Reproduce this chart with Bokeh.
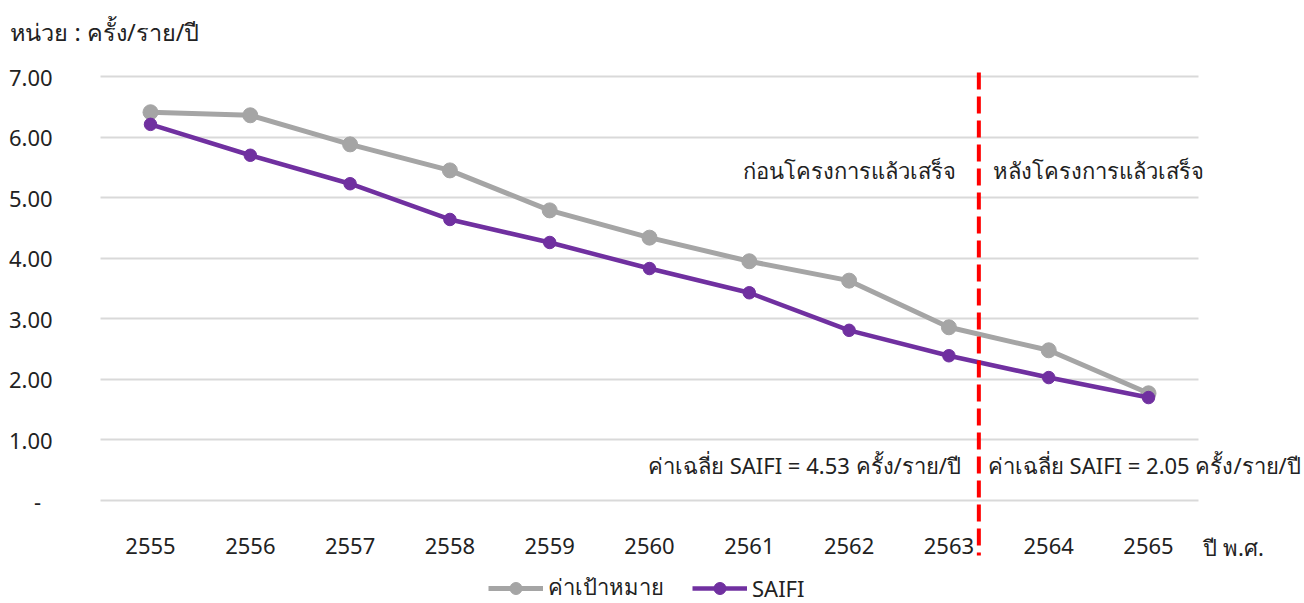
from bokeh.plotting import figure
from bokeh.models import Range1d, FixedTicker, Label, Legend, LegendItem
from bokeh.embed import file_html
from bokeh.resources import INLINE

# ---- data ----
years = [2555, 2556, 2557, 2558, 2559, 2560, 2561, 2562, 2563, 2564, 2565]
target = [6.41, 6.36, 5.88, 5.45, 4.79, 4.34, 3.95, 3.63, 2.86, 2.48, 1.77]
saifi = [6.21, 5.70, 5.23, 4.64, 4.26, 3.83, 3.43, 2.81, 2.39, 2.03, 1.70]
y_ticks = [0, 1, 2, 3, 4, 5, 6, 7]
y_tick_labels = ["-\u00a0\u00a0", "1.00", "2.00", "3.00", "4.00", "5.00", "6.00", "7.00"]
boundary_year = 2563.3
boundary_top = 7.066
boundary_bottom = -0.908
series_names = ["ค่าเป้าหมาย", "SAIFI"]
unit_text = "หน่วย : ครั้ง/ราย/ปี"
x_title = "ปี พ.ศ."
before_text = "ก่อนโครงการแล้วเสร็จ"
after_text = "หลังโครงการแล้วเสร็จ"
avg_before = "ค่าเฉลี่ย SAIFI = 4.53 ครั้ง/ราย/ปี"
avg_after = "ค่าเฉลี่ย SAIFI = 2.05 ครั้ง/ราย/ปี"

FONT = "Noto Sans"
FS = "22px"
GRAY = "#A5A5A5"
PURPLE = "#7030A0"
TXT = "#222222"

# frame covers the whole canvas; plot area bounds given via fixed axis / grid bounds
X0, X1 = 2554.5, 2565.5
p = figure(width=1304, height=603,
           x_range=Range1d(2553.497, 2566.563), y_range=Range1d(-1.70, 8.255),
           output_backend="svg", toolbar_location=None,
           min_border_left=0, min_border_right=0,
           min_border_top=0, min_border_bottom=0)
p.outline_line_color = None
p.background_fill_color = "white"

# axes
p.xaxis.ticker = FixedTicker(ticks=years)
p.xaxis.fixed_location = 0
p.xaxis.axis_line_color = None
p.xaxis.major_tick_line_color = None
p.xaxis.minor_tick_line_color = None
p.xaxis.major_label_standoff = 31
p.xaxis.major_label_text_font = FONT
p.xaxis.major_label_text_font_size = FS
p.xaxis.major_label_text_color = TXT
p.xgrid.visible = False

p.yaxis.ticker = FixedTicker(ticks=y_ticks)
p.yaxis.fixed_location = X0
p.yaxis.major_label_overrides = {t: l for t, l in zip(y_ticks, y_tick_labels)}
p.yaxis.axis_line_color = None
p.yaxis.major_tick_line_color = None
p.yaxis.minor_tick_line_color = None
p.yaxis.major_label_standoff = 42
p.yaxis.major_label_text_font = FONT
p.yaxis.major_label_text_font_size = FS
p.yaxis.major_label_text_color = TXT
p.ygrid.ticker = FixedTicker(ticks=y_ticks)
p.ygrid.cross_bounds = (X0, X1)
p.ygrid.grid_line_color = "#D9D9D9"
p.ygrid.grid_line_width = 2

# series
gl = p.line(years, target, line_color=GRAY, line_width=5)
gc = p.scatter(years, target, size=15, fill_color=GRAY, line_color=GRAY)
pl = p.line(years, saifi, line_color=PURPLE, line_width=4.5)
pc = p.scatter(years, saifi, size=12.5, fill_color=PURPLE, line_color=PURPLE)

# boundary
p.segment(x0=[boundary_year], y0=[boundary_top], x1=[boundary_year], y1=[boundary_bottom],
          line_color="#FF0000", line_width=4, line_dash="17 7")

def lab(x, y, t, align="left", baseline="middle", size=FS):
    p.add_layout(Label(x=x, y=y, text=t, text_font=FONT, text_font_size=size,
                       text_align=align, text_baseline=baseline, text_color=TXT))

lab(2563.07, 5.45, before_text, "right")
lab(2563.44, 5.45, after_text, "left")
lab(2563.12, 0.58, avg_before, "right")
lab(2563.39, 0.58, avg_after, "left")
lab(2565.55, -0.76, x_title, "left")
lab(2553.597, 7.727, unit_text, "left", size="23.5px")

legend = Legend(items=[LegendItem(label=series_names[0], renderers=[gl, gc]),
                       LegendItem(label=series_names[1], renderers=[pl, pc])],
                orientation="horizontal", location=(488, -2),
                glyph_width=55, glyph_height=30, spacing=28, padding=0, margin=0,
                label_text_font=FONT, label_text_font_size=FS,
                label_text_color=TXT, border_line_color=None,
                background_fill_alpha=0, label_standoff=5)
p.add_layout(legend)

open("out.html", "w").write(file_html(p, INLINE))
